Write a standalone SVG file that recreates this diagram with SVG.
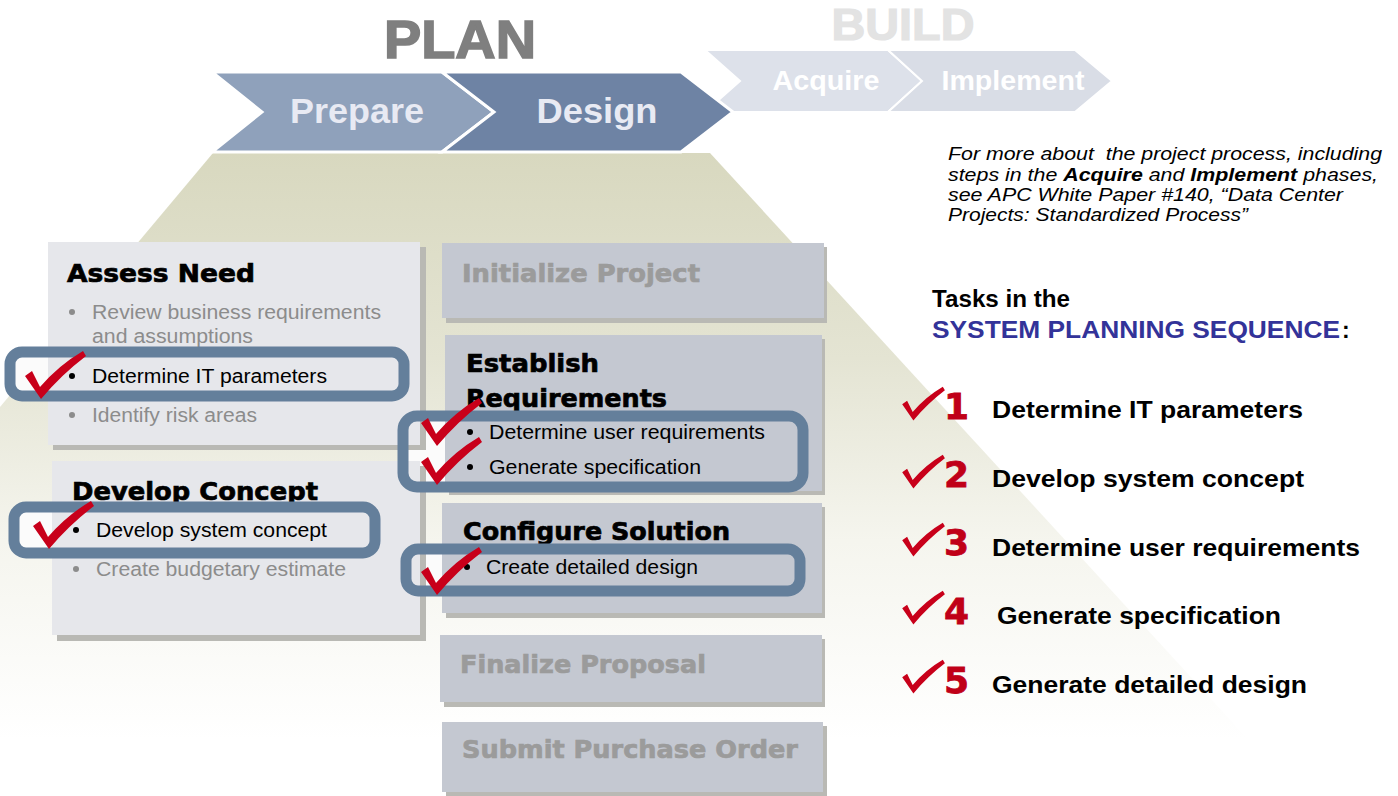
<svg xmlns="http://www.w3.org/2000/svg" width="1398" height="796" viewBox="0 0 1398 796">
<defs>
<linearGradient id="olive" gradientUnits="userSpaceOnUse" x1="0" y1="153" x2="0" y2="740">
<stop offset="0" stop-color="#d8d8bf"/>
<stop offset="0.35" stop-color="#e4e4d3"/>
<stop offset="0.66" stop-color="#f5f5ee"/>
<stop offset="1" stop-color="#ffffff"/>
</linearGradient>
<path id="tick" d="M -14,-21 L -7,-26 L 1,-10 Q 20,-32 44,-46 L 47,-41 Q 22,-22 2,2 Z"/>
<style>
.hd{font-family:"DejaVu Sans","Liberation Sans",sans-serif;font-weight:700;font-size:25px;fill:#000;stroke:#000;stroke-width:0.7px}
.hdg{font-family:"DejaVu Sans","Liberation Sans",sans-serif;font-weight:700;font-size:25px;fill:#9b9b9b;stroke:#9b9b9b;stroke-width:0.7px}
.bl{font-family:"Liberation Sans",Arial,sans-serif;font-size:19.5px;fill:#000}
.blg{font-family:"Liberation Sans",Arial,sans-serif;font-size:19.5px;fill:#8c8c8c}
.boxL{fill:#e6e7eb}
.boxR{fill:#c4c8d1}
.shd{fill:#b9b9b4}
.hl{fill:none;stroke:#647f9b;stroke-width:11}
.hlw{fill:#fbfbfb}
.tk{fill:#c8001a}
.chev{font-family:"Liberation Sans",Arial,sans-serif;font-weight:700;text-anchor:middle}
.num{font-family:"DejaVu Sans","Liberation Sans",sans-serif;font-weight:700;font-size:36px;fill:#c00018;stroke:#c00018;stroke-width:0.8px}
.task{font-family:"Liberation Sans",Arial,sans-serif;font-weight:700;font-size:24px;fill:#000}
.note{font-family:"Liberation Sans",Arial,sans-serif;font-style:italic;font-size:18.5px;fill:#000;white-space:pre}
</style>
</defs>
<rect width="1398" height="796" fill="#ffffff"/>
<polygon id="bg" points="213,153 710,153 1300,796 0,796 0,407" fill="url(#olive)"/>

<g id="phase-build">
<text x="903" y="40" class="chev" font-family="DejaVu Sans" font-size="44" fill="#e3e3e3" stroke="#e3e3e3" stroke-width="1.2" textLength="143" lengthAdjust="spacingAndGlyphs">BUILD</text>
<polygon points="705,50 888,50 922,81 888,112 705,112 740,81" fill="#dde1ea" stroke="#ffffff" stroke-width="2"/>
<polygon points="888,50 1075,50 1112,81 1075,112 888,112 922,81" fill="#d9dde6" stroke="#ffffff" stroke-width="2"/>
<text x="826" y="90" class="chev" font-size="28" fill="#ffffff" textLength="107" lengthAdjust="spacingAndGlyphs">Acquire</text>
<text x="1013" y="90" class="chev" font-size="28" fill="#ffffff" textLength="143" lengthAdjust="spacingAndGlyphs">Implement</text>
</g>

<g id="phase-plan">
<text x="460" y="58" class="chev" font-family="DejaVu Sans" font-size="54" fill="#7f7f7f" stroke="#7f7f7f" stroke-width="1.6" textLength="152" lengthAdjust="spacingAndGlyphs">PLAN</text>
<polygon points="212,72 442,72 494,112 442,152 212,152 262,112" fill="#8fa1bb" stroke="#ffffff" stroke-width="3"/>
<polygon points="442,72 681,72 733,112 681,152 442,152 494,112" fill="#6e83a4" stroke="#ffffff" stroke-width="3"/>
<text x="357" y="123" class="chev" font-size="35" fill="#e8eaf3" textLength="134" lengthAdjust="spacingAndGlyphs">Prepare</text>
<text x="597" y="123" class="chev" font-size="35" fill="#e8eaf3" textLength="121" lengthAdjust="spacingAndGlyphs">Design</text>
</g>

<!-- highlight white fills beneath boxes -->
<rect class="hlw" x="10" y="352" width="394" height="44" rx="12"/>
<rect class="hlw" x="14" y="507" width="361" height="46" rx="12"/>
<rect class="hlw" x="403" y="416" width="400" height="71" rx="14"/>
<rect class="hlw" x="406" y="549" width="394" height="42" rx="12"/>

<g id="assess-need">
<rect class="shd" x="53" y="247" width="373" height="203"/>
<rect class="boxL" x="48" y="242" width="372" height="203"/>
<text class="hd" x="67" y="282" textLength="188" lengthAdjust="spacingAndGlyphs">Assess Need</text>
<circle cx="72" cy="312" r="3" fill="#8c8c8c"/>
<text class="blg" x="92" y="319" textLength="289" lengthAdjust="spacingAndGlyphs">Review business requirements</text>
<text class="blg" x="92" y="343" textLength="161" lengthAdjust="spacingAndGlyphs">and assumptions</text>
<circle cx="72" cy="376" r="3" fill="#000"/>
<text class="bl" x="92" y="383" textLength="235" lengthAdjust="spacingAndGlyphs">Determine IT parameters</text>
<circle cx="72" cy="415" r="3" fill="#8c8c8c"/>
<text class="blg" x="92" y="422" textLength="165" lengthAdjust="spacingAndGlyphs">Identify risk areas</text>
</g>

<g id="develop-concept">
<rect class="shd" x="57" y="466" width="369" height="175"/>
<rect class="boxL" x="52" y="461" width="368" height="174"/>
<text class="hd" x="72" y="500" textLength="246" lengthAdjust="spacingAndGlyphs">Develop Concept</text>
<circle cx="76" cy="530" r="3" fill="#000"/>
<text class="bl" x="96" y="537" textLength="231" lengthAdjust="spacingAndGlyphs">Develop system concept</text>
<circle cx="76" cy="569" r="3" fill="#8c8c8c"/>
<text class="blg" x="96" y="576" textLength="250" lengthAdjust="spacingAndGlyphs">Create budgetary estimate</text>
</g>

<g id="initialize-project">
<rect class="shd" x="446" y="247" width="381" height="76"/>
<rect class="boxR" x="442" y="243" width="382" height="75"/>
<text class="hdg" x="462" y="282" textLength="238" lengthAdjust="spacingAndGlyphs">Initialize Project</text>
</g>

<g id="establish-requirements">
<rect class="shd" x="449" y="339" width="376" height="156"/>
<rect class="boxR" x="445" y="335" width="377" height="156"/>
<text class="hd" x="466" y="372" textLength="133" lengthAdjust="spacingAndGlyphs">Establish</text>
<text class="hd" x="466" y="407" textLength="201" lengthAdjust="spacingAndGlyphs">Requirements</text>
<circle cx="470" cy="432" r="3" fill="#000"/>
<text class="bl" x="489" y="439" textLength="276" lengthAdjust="spacingAndGlyphs">Determine user requirements</text>
<circle cx="470" cy="467" r="3" fill="#000"/>
<text class="bl" x="489" y="474" textLength="212" lengthAdjust="spacingAndGlyphs">Generate specification</text>
</g>

<g id="configure-solution">
<rect class="shd" x="446" y="507" width="379" height="111"/>
<rect class="boxR" x="442" y="503" width="380" height="110"/>
<text class="hd" x="463" y="540" textLength="267" lengthAdjust="spacingAndGlyphs">Configure Solution</text>
<circle cx="467" cy="567" r="3" fill="#000"/>
<text class="bl" x="486" y="574" textLength="212" lengthAdjust="spacingAndGlyphs">Create detailed design</text>
</g>

<g id="finalize-proposal">
<rect class="shd" x="444" y="639" width="381" height="68"/>
<rect class="boxR" x="440" y="635" width="382" height="67"/>
<text class="hdg" x="460" y="673" textLength="246" lengthAdjust="spacingAndGlyphs">Finalize Proposal</text>
</g>

<g id="submit-purchase-order">
<rect class="shd" x="446" y="726" width="381" height="70"/>
<rect class="boxR" x="442" y="722" width="381" height="70"/>
<text class="hdg" x="462" y="758" textLength="336" lengthAdjust="spacingAndGlyphs">Submit Purchase Order</text>
</g>

<g id="connectors"></g>

<g id="highlights">
<rect class="hl" x="10" y="352" width="394" height="44" rx="12"/>
<rect class="hl" x="14" y="507" width="361" height="46" rx="12"/>
<rect class="hl" x="403" y="416" width="400" height="71" rx="14"/>
<rect class="hl" x="406" y="549" width="394" height="42" rx="12"/>
</g>

<g id="checks">
<use href="#tick" class="tk" transform="translate(39,397)"/>
<use href="#tick" class="tk" transform="translate(47,547)"/>
<use href="#tick" class="tk" transform="translate(435,444)"/>
<use href="#tick" class="tk" transform="translate(435,483)"/>
<use href="#tick" class="tk" transform="translate(435,593)"/>
</g>

<g id="note">
<text class="note" x="948" y="160" textLength="434" lengthAdjust="spacingAndGlyphs">For more about  the project process, including</text>
<text class="note" x="948" y="181" textLength="430" lengthAdjust="spacingAndGlyphs">steps in the <tspan font-weight="700">Acquire</tspan> and <tspan font-weight="700">Implement</tspan> phases,</text>
<text class="note" x="948" y="201" textLength="395" lengthAdjust="spacingAndGlyphs">see APC White Paper #140, “Data Center</text>
<text class="note" x="948" y="221" textLength="300" lengthAdjust="spacingAndGlyphs">Projects: Standardized Process”</text>
</g>

<g id="task-list">
<text x="932" y="307" font-family="Liberation Sans, Arial, sans-serif" font-weight="700" font-size="23" fill="#000" textLength="138" lengthAdjust="spacingAndGlyphs">Tasks in the</text>
<text x="932" y="338" font-family="Liberation Sans, Arial, sans-serif" font-weight="700" font-size="23" fill="#333399" textLength="408" lengthAdjust="spacingAndGlyphs">SYSTEM PLANNING SEQUENCE</text>
<text x="1342" y="338" font-family="Liberation Sans, Arial, sans-serif" font-weight="700" font-size="23" fill="#000">:</text>

<use href="#tick" class="tk" transform="translate(912,419) scale(0.7)"/>
<text class="num" x="944" y="419">1</text>
<text class="task" x="992" y="418" textLength="311" lengthAdjust="spacingAndGlyphs">Determine IT parameters</text>

<use href="#tick" class="tk" transform="translate(912,487) scale(0.7)"/>
<text class="num" x="944" y="487">2</text>
<text class="task" x="992" y="487" textLength="312" lengthAdjust="spacingAndGlyphs">Develop system concept</text>

<use href="#tick" class="tk" transform="translate(912,555) scale(0.7)"/>
<text class="num" x="944" y="555">3</text>
<text class="task" x="992" y="556" textLength="368" lengthAdjust="spacingAndGlyphs">Determine user requirements</text>

<use href="#tick" class="tk" transform="translate(912,623) scale(0.7)"/>
<text class="num" x="944" y="624">4</text>
<text class="task" x="997" y="624" textLength="284" lengthAdjust="spacingAndGlyphs">Generate specification</text>

<use href="#tick" class="tk" transform="translate(912,692) scale(0.7)"/>
<text class="num" x="944" y="693">5</text>
<text class="task" x="992" y="693" textLength="315" lengthAdjust="spacingAndGlyphs">Generate detailed design</text>
</g>
</svg>
